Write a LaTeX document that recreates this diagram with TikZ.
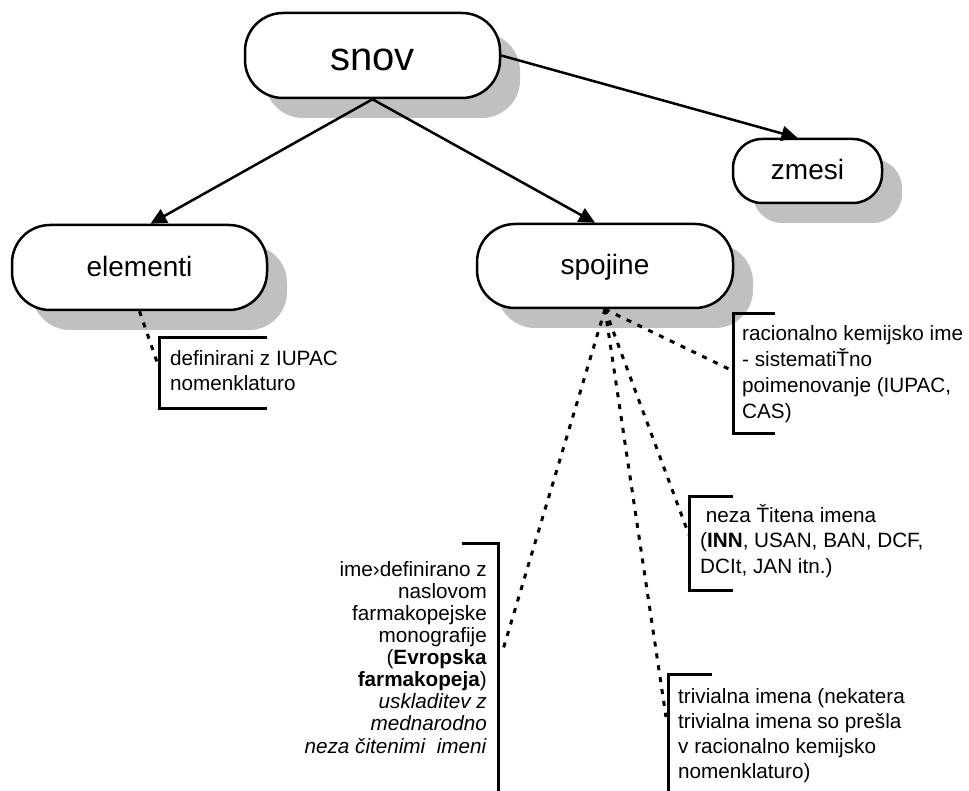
\documentclass[tikz,border=0pt]{standalone}
\usepackage{fontspec}
\setmainfont{Liberation Sans}
\usetikzlibrary{arrows.meta,shadows,calc}
\definecolor{shadowgray}{RGB}{192,192,192}

\begin{document}
\begin{tikzpicture}[x=1pt,y=-1pt,
  term/.style={
      draw,
      line width=2.5pt,
      fill=white,
      rounded corners=38pt,
      minimum width=255pt,
      minimum height=85pt,
      inner sep=0pt,
      text height=23pt,
      text depth=5pt,
      font=\fontsize{28}{32}\selectfont,
      drop shadow={shadow xshift=20pt, shadow yshift=-20pt, fill=shadowgray, opacity=1}
    },
  tree arrow/.style={
      line width=2.5pt,
      arrows={-Triangle[length=16pt,width=15pt]}
    },
  note line/.style={
      line width=3pt,
      dash pattern=on 5pt off 7pt
    },
  bracket/.style={
      line width=3pt,
      line join=miter
    },
  note/.style={
      inner sep=0pt,
      align=left,
      anchor=base west,
      font=\fontsize{20.7}{25.5}\selectfont
    }]

  \useasboundingbox (0,0) rectangle (969,791);

  % main terms
  \node [term, text height=36pt, text depth=6pt, font=\fontsize{40}{44}\selectfont] (snov) at (372.5,55.5) {snov};
  \node [term, minimum width=149pt, minimum height=64pt, rounded corners=29pt] (zmesi) at (807.5,171) {zmesi};
  \node [term] (elementi) at (139.5,267.5) {elementi};
  \node [term, minimum width=256pt, minimum height=84pt] (spojine) at (605,266) {spojine};

  \draw [tree arrow] (snov.south) -- ($(elementi.north)+(11,0)$);
  \draw [tree arrow] (snov.south) -- ($(spojine.north)+(-10,0)$);
  \draw [tree arrow] (snov.east) -- ($(zmesi.north)+(-10,0)$);

  % notes (anchored at the baseline of the last line)
  \node [note] (def) at (170,391) {definirani z IUPAC\\nomenklaturo};
  \draw [bracket] (267,338) -- (159,338) -- (159,408) -- (267,408);
  \coordinate (def in) at (157,362);

  \node [note, font=\fontsize{20.7}{25.7}\selectfont] (rac) at (742,418) {racionalno kemijsko ime\\- sistematiŤno\\poimenovanje (IUPAC,\\CAS)};
  \draw [bracket] (775,314) -- (733,314) -- (733,433) -- (775,433);
  \coordinate (rac in) at (733,371);

  \node [note] (neza) at (700,573) {\ neza Ťitena imena\\(\textbf{INN}, USAN, BAN, DCF,\\DCIt, JAN itn.)};
  \draw [bracket] (733,496) -- (689,496) -- (689,590) -- (733,590);
  \coordinate (neza in) at (689,535);

  \node [note, font=\fontsize{20.7}{25}\selectfont] (triv) at (678,778) {trivialna imena (nekatera\\trivialna imena so prešla\\v racionalno kemijsko\\nomenklaturo)};
  \draw [bracket] (712,674) -- (668,674) -- (668,791);
  \coordinate (triv in) at (666,717);

  \node [note, align=right, anchor=base east, font=\fontsize{20.7}{22.1}\selectfont] (ime) at (487,753)
    {ime›definirano z\\naslovom\\farmakopejske\\monografije\\(\textbf{Evropska}\\\textbf{farmakopeja})\\\textit{uskladitev z}\\\textit{mednarodno}\\\textit{neza čitenimi\ \ imeni}};
  \draw [bracket] (462,543) -- (498,543) -- (498,791);
  \coordinate (ime in) at (502,653);

  \draw [note line] (elementi.south) -- (def in);
  \draw [note line] (spojine.south) -- (rac in);
  \draw [note line] (spojine.south) -- (neza in);
  \draw [note line] (spojine.south) -- (triv in);
  \draw [note line] (spojine.south) -- (ime in);
\end{tikzpicture}
\end{document}
